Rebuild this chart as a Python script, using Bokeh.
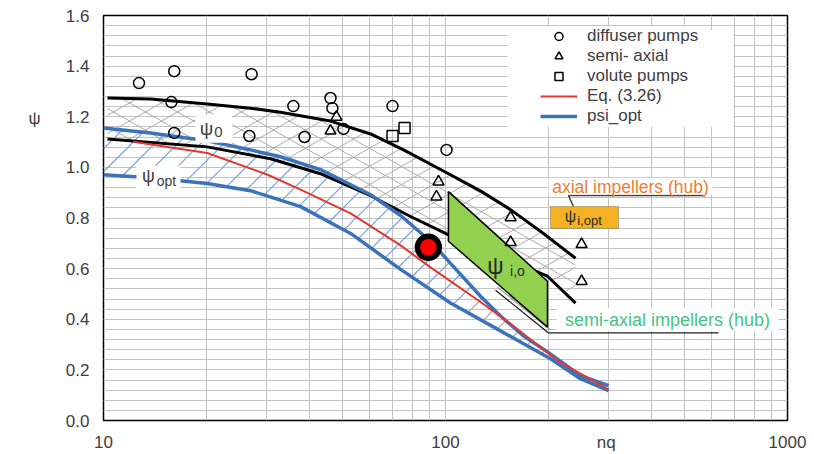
import numpy as np
from bokeh.plotting import figure
from bokeh.models import (Range1d, FixedTicker, SingleIntervalTicker, PrintfTickFormatter,
                          Legend, LegendItem, Label, BoxAnnotation, LinearAxis)
from bokeh.embed import file_html
from bokeh.resources import INLINE

# ---------------- data ----------------
diffuser_nq = [12.7, 16.1, 27.1, 15.8, 16.1, 26.7, 35.9, 38.7, 46.1, 46.7, 50.3, 70.0, 100.7]
diffuser_psi = [1.333, 1.380, 1.368, 1.258, 1.136, 1.124, 1.242, 1.120, 1.274, 1.234, 1.152, 1.242, 1.069]
semiaxial_nq = [48.0, 46.1, 95.4, 94.1, 155.0, 155.0, 250.0, 250.0]
semiaxial_psi = [1.199, 1.144, 0.943, 0.884, 0.802, 0.704, 0.696, 0.550]
volute_nq = [70.0, 75.9]
volute_psi = [1.124, 1.156]

psi0_upper_nq = [10.27, 13.72, 20.1, 26.9, 32.9, 46.1, 60.4, 75.4, 103.4, 129.2, 154.9, 193.4, 240.0]
psi0_upper = [1.274, 1.270, 1.250, 1.234, 1.218, 1.183, 1.132, 1.069, 0.971, 0.900, 0.833, 0.739, 0.641]
psi0_lower_nq = [10.27, 20.1, 30.8, 43.1, 60.4, 79.0, 101.4, 198.7, 240.0]
psi0_lower = [1.112, 1.081, 1.034, 0.975, 0.888, 0.806, 0.735, 0.570, 0.464]

opt_upper_nq = [10.0, 13.72, 20.1, 26.9, 32.9, 43.1, 60.4, 73.9, 90.4, 103.4, 126.6, 144.8, 169.1, 198.7, 248.1, 300.0]
opt_upper = [1.156, 1.136, 1.105, 1.069, 1.042, 0.991, 0.892, 0.810, 0.708, 0.621, 0.491, 0.413, 0.334, 0.271, 0.177, 0.138]
psi_opt_nq = [10.0, 13.72, 20.1, 26.9, 37.7, 52.8, 73.9, 103.4, 144.8, 202.8, 248.1, 300.0]
psi_opt = [0.971, 0.959, 0.936, 0.908, 0.845, 0.739, 0.597, 0.464, 0.354, 0.244, 0.165, 0.118]
eq326_nq = [12.2, 20.1, 30.2, 37.7, 52.8, 73.9, 90.4, 126.6, 158.0, 212.6, 248.1, 300.0]
eq326_psi = [1.101, 1.057, 0.971, 0.912, 0.818, 0.692, 0.605, 0.468, 0.373, 0.236, 0.185, 0.122]

psi_io_nq = [102.0, 198.7, 198.7, 102.0]
psi_io = [0.904, 0.550, 0.369, 0.708]
point_nq = [89.1]
point_psi = [0.684]

x_ticks = [10, 100, 1000]
x_minor = [20, 30, 40, 50, 60, 70, 80, 90, 200, 300, 400, 500, 600, 700, 800, 900]
x_title_at = 295          # where the axis name n_q sits on the axis

# ---------------- layout ----------------
W, H = 812, 454
FL, FT, FW, FH = 103, 15, 684, 407
FONT = "Liberation Sans"
TXT = "#404040"

def at(px, py):
    """page pixel -> data coordinates (for annotation placement only)"""
    x = 10 ** (1 + 2.0 * (px - FL) / FW)
    y = 1.6 * (FT + FH - py) / FH
    return x, y

KX, KY = FW / 2.0, FH / 1.6

def to_px(nq, psi):
    return np.log10(np.asarray(nq, float)) * KX, np.asarray(psi, float) * KY

def hatch(top_x, top_y, bot_x, bot_y, slope, spacing, xmin=None, xmax=None):
    Xt, Yt = to_px(top_x, top_y)
    Xb, Yb = to_px(bot_x, bot_y)
    lo = max(Xt[0], Xb[0]); hi = min(Xt[-1], Xb[-1])
    if xmin is not None: lo = max(lo, np.log10(xmin) * KX)
    if xmax is not None: hi = min(hi, np.log10(xmax) * KX)
    X = np.arange(lo, hi, 0.25)
    yt = np.interp(X, Xt, Yt); yb = np.interp(X, Xb, Yb)
    dc = abs(slope) * spacing
    cs = np.arange(np.floor((yb - slope * X).min() / dc) * dc - dc,
                   (yt - slope * X).max() + dc, dc)
    xs, ys = [], []
    for c0 in cs:
        Y = slope * X + c0
        idx = np.where((Y >= yb) & (Y <= yt))[0]
        if len(idx) < 2:
            continue
        runs = np.split(idx, np.where(np.diff(idx) > 1)[0] + 1)
        for r in runs:
            if len(r) < 2:
                continue
            e = r[[0, -1]]
            xs.append(list(10 ** (X[e] / KX)))
            ys.append(list(Y[e] / KY))
    return xs, ys

p = figure(width=W, height=H, x_axis_type="log",
           x_range=Range1d(10, 1000), y_range=Range1d(0, 1.6),
           output_backend="svg", toolbar_location=None,
           min_border_left=FL, min_border_right=W - FL - FW,
           min_border_top=FT, min_border_bottom=H - FT - FH,
           background_fill_color="white", border_fill_color="white")

p.outline_line_color = "black"
p.outline_line_width = 1.5

p.xaxis.ticker = FixedTicker(ticks=x_ticks + [x_title_at], minor_ticks=x_minor)
p.xaxis.formatter = PrintfTickFormatter(format="%d")
p.xaxis.major_label_overrides = {x_title_at: "nq"}
p.yaxis.ticker = SingleIntervalTicker(interval=0.2, num_minor_ticks=5)
p.yaxis.formatter = PrintfTickFormatter(format="%.1f")

def style_axis(ax):
    ax.axis_line_color = None
    ax.major_tick_line_color = None
    ax.minor_tick_line_color = None
    ax.major_tick_out = 0
    ax.minor_tick_out = 0
    ax.major_tick_in = 0
    ax.minor_tick_in = 0
    ax.major_label_text_font = FONT
    ax.major_label_text_font_size = "17px"
    ax.major_label_text_color = TXT

for ax in (p.xaxis[0], p.yaxis[0]):
    style_axis(ax)
p.xaxis.major_label_standoff = 12
p.yaxis.major_label_standoff = 14

# extra left axis that only carries the psi symbol
psi_sym_y = round(at(35, 118)[1], 3)
ax_psi = LinearAxis(ticker=FixedTicker(ticks=[psi_sym_y]),
                    major_label_overrides={psi_sym_y: "ψ"})
style_axis(ax_psi)
ax_psi.major_label_standoff = 22
p.add_layout(ax_psi, "left")

GRID = "#c3c3c3"
p.xgrid.ticker = FixedTicker(ticks=x_ticks, minor_ticks=x_minor)
for g in (p.xgrid, p.ygrid):
    g.grid_line_color = GRID
    g.grid_line_width = 1
    g.minor_grid_line_color = GRID
    g.minor_grid_line_width = 1

# ---- hatching ----
hx, hy = hatch(psi0_upper_nq, psi0_upper, psi0_lower_nq, psi0_lower, 0.57, 32)
p.multi_line(hx, hy, line_color="#acacac", line_width=1)
hx, hy = hatch(psi0_upper_nq, psi0_upper, psi0_lower_nq, psi0_lower, -0.57, 32)
p.multi_line(hx, hy, line_color="#acacac", line_width=1)

hx, hy = hatch(opt_upper_nq, opt_upper, psi_opt_nq, psi_opt, 1.0, 23, xmax=118)
p.multi_line(hx, hy, line_color="#7aa3dc", line_width=1.2)
hx, hy = hatch(opt_upper_nq, opt_upper, psi_opt_nq, psi_opt, 1.0, 23, xmin=118, xmax=230)
p.multi_line(hx, hy, line_color="#ababab", line_width=1.2)

# ---- curves ----
p.line(psi0_upper_nq, psi0_upper, line_color="black", line_width=3)
p.line(psi0_lower_nq, psi0_lower, line_color="black", line_width=3)
p.line(opt_upper_nq, opt_upper, line_color="#3b73ba", line_width=3.5)
r_opt = p.line(psi_opt_nq, psi_opt, line_color="#3b73ba", line_width=3.5)
r_eq = p.line(eq326_nq, eq326_psi, line_color="#e5372d", line_width=2)

# ---- leader lines of the semi-axial label ----
lx0, ly0 = at(495, 291)
lx1, ly1 = at(548, 334)
lx2, ly2 = at(718, 334)
lxg0, lyg0 = at(497, 288)
lxg1, lyg1 = at(550, 331)
p.line([lxg0, lxg1], [lyg0, lyg1], line_color="#9a9a9a", line_width=1.2)
p.line([lx0, lx1, lx2], [ly0, ly1, ly2], line_color="#202020", line_width=1.3)

# ---- psi_io region ----
p.patch(psi_io_nq, psi_io, fill_color="#92d050", line_color="black", line_width=1.5)

# ---- markers ----
r_c = p.scatter(diffuser_nq, diffuser_psi, marker="circle", size=11, fill_color=None,
                line_color="black", line_width=1.5)
r_t = p.scatter(semiaxial_nq, semiaxial_psi, marker="triangle", size=11, fill_color=None,
                line_color="black", line_width=1.5)
r_s = p.scatter(volute_nq, volute_psi, marker="square", size=11, fill_color=None,
                line_color="black", line_width=1.5)
p.scatter(point_nq, point_psi, marker="circle", size=22, fill_color="#ff0000",
          line_color="black", line_width=5.5)

# ---- white boxes and labels ----
def wbox(x0, y0, x1, y1, fill="white", line=None):
    a, b = at(x0, y1)
    c, d = at(x1, y0)
    p.add_layout(BoxAnnotation(left=a, right=c, bottom=b, top=d, fill_color=fill,
                               fill_alpha=1, line_color=line, line_width=1 if line else 0,
                               level="annotation"))

def lab(px, py, text, size, color=TXT, style="normal", align="center"):
    x, y = at(px, py)
    p.add_layout(Label(x=x, y=y, text=text, text_font=FONT, text_font_size=size,
                       text_color=color, text_align=align, text_baseline="middle",
                       text_font_style=style))

wbox(507, 30, 733, 127)                     # legend background
wbox(195, 114, 232, 143)                    # psi_0
wbox(136, 166, 180, 192)                    # psi_opt
wbox(548, 178, 712, 195)                    # axial impellers
wbox(556, 309, 778, 332)                    # semi-axial impellers
wbox(550, 207, 618, 229, fill="#f4b223", line="#404040")   # psi_i,opt box

lab(206, 129, "ψ", "19px")
lab(218, 132, "0", "15px")
lab(148, 176, "ψ", "18px")
lab(166, 181, "opt", "14px")
lab(495, 267, "ψ", "23px", color="#2a2a2a")
lab(517, 272, "i,o", "14px", color="#2a2a2a")
lab(570, 217, "ψ", "16px", color="#2a2a2a")
lab(589, 221, "i,opt", "13px", color="#2a2a2a")
lab(630, 187, "axial impellers (hub)", "17.5px", color="#f07d32")
lab(667, 321, "semi-axial impellers (hub)", "18px", color="#45c486")

# panel letter, in frame-relative screen units (y measured upward from frame bottom)
p.add_layout(Label(x=35 - FL, y=(FT + FH) - 443, x_units="screen", y_units="screen",
                   text="a", text_font=FONT, text_font_size="18px", text_color="#111111",
                   text_font_style="bold", text_align="center", text_baseline="middle"))

# underline + leader of the axial label
ux0, uy0 = at(568, 196)
ux1, uy1 = at(703, 196)
ux2, uy2 = at(573, 207)
p.line([ux2, ux0, ux1], [uy2, uy0, uy1], line_color="#404040", line_width=1.5)

# ---- legend ----
legend = Legend(items=[LegendItem(label="diffuser pumps", renderers=[r_c]),
                       LegendItem(label="semi- axial", renderers=[r_t]),
                       LegendItem(label="volute pumps", renderers=[r_s]),
                       LegendItem(label="Eq. (3.26)", renderers=[r_eq]),
                       LegendItem(label="psi_opt", renderers=[r_opt])],
                location=(437, 294), orientation="vertical",
                glyph_width=37, glyph_height=20, label_height=20, spacing=0,
                label_standoff=10, padding=4, margin=0,
                border_line_color=None, background_fill_color="white", background_fill_alpha=1,
                label_text_font=FONT, label_text_font_size="17px", label_text_color=TXT)
p.add_layout(legend)

open("out.html", "w").write(file_html(p, INLINE))
